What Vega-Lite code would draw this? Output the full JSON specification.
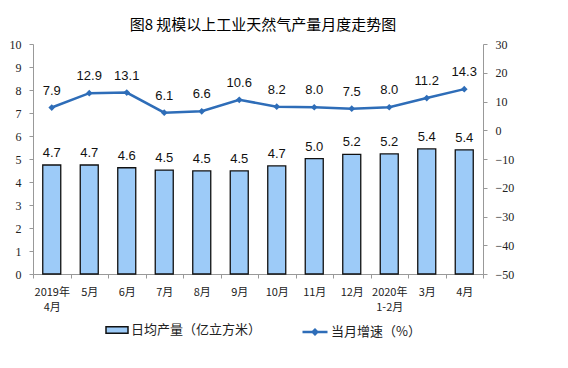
{
  "$schema": "https://vega.github.io/schema/vega-lite/v6.json",
  "width": 450,
  "height": 230,
  "autosize": {"type": "none"},
  "padding": {"left": 33, "top": 44, "right": 85, "bottom": 94},
  "background": "white",
  "title": {
    "text": "图8  规模以上工业天然气产量月度走势图",
    "font": "Noto Sans CJK SC",
    "fontSize": 15,
    "fontWeight": 400,
    "color": "#000",
    "anchor": "middle",
    "offset": 5,
    "dx": 5
  },
  "config": {
    "view": {"stroke": null},
    "axis": {"grid": false, "domainColor": "#999", "tickColor": "#999"}
  },
  "data": {
    "values": [
      {"m": "2019年|4月", "prod": 4.74, "growth": 7.9},
      {"m": "5月", "prod": 4.74, "growth": 12.9},
      {"m": "6月", "prod": 4.62, "growth": 13.1},
      {"m": "7月", "prod": 4.52, "growth": 6.1},
      {"m": "8月", "prod": 4.48, "growth": 6.6},
      {"m": "9月", "prod": 4.48, "growth": 10.6},
      {"m": "10月", "prod": 4.7, "growth": 8.2},
      {"m": "11月", "prod": 5.02, "growth": 8.0},
      {"m": "12月", "prod": 5.2, "growth": 7.5},
      {"m": "2020年|1-2月", "prod": 5.22, "growth": 8.0},
      {"m": "3月", "prod": 5.44, "growth": 11.2},
      {"m": "4月", "prod": 5.4, "growth": 14.3}
    ]
  },
  "encoding": {
    "x": {
      "field": "m",
      "type": "nominal",
      "sort": null,
      "title": null,
      "scale": {"paddingInner": 0, "paddingOuter": 0},
      "axis": {
        "labelAngle": 0,
        "labelExpr": "split(datum.label, '|')",
        "labelFont": "Noto Sans CJK SC",
        "labelFontSize": 11,
        "labelColor": "#222",
        "labelPadding": 8,
        "labelLineHeight": 15,
        "tickBand": "extent",
        "tickSize": 4,
        "domainColor": "#999"
      }
    }
  },
  "layer": [
    {
      "encoding": {
        "y": {
          "field": "prod",
          "type": "quantitative",
          "title": null,
          "scale": {"domain": [0, 10], "nice": false},
          "axis": {
            "values": [0, 1, 2, 3, 4, 5, 6, 7, 8, 9, 10],
            "labelOverlap": false,
            "labelFont": "Liberation Serif",
            "labelFontSize": 12,
            "labelColor": "#222",
            "labelPadding": 8,
            "tickSize": 4
          }
        }
      },
      "layer": [
        {
          "mark": {"type": "bar", "width": 18, "stroke": "#111", "strokeWidth": 1.3},
          "encoding": {
            "fill": {
              "datum": "日均产量（亿立方米）",
              "type": "nominal",
              "scale": {"range": ["#9DCBF8"]},
              "legend": {
                "orient": "none",
                "legendX": 72,
                "legendY": 274,
                "title": null,
                "symbolType": "M-1,-0.3H1V0.3H-1Z",
                "symbolSize": 484,
                "symbolStrokeColor": "#111",
                "symbolStrokeWidth": 1.5,
                "labelFont": "Noto Sans CJK SC",
                "labelFontSize": 13,
                "labelColor": "#222",
                "labelOffset": 2
              }
            }
          }
        },
        {
          "mark": {"type": "text", "dy": -12, "font": "Liberation Sans", "fontSize": 13, "color": "#111"},
          "encoding": {
            "text": {"field": "prod", "type": "quantitative", "format": ".1f"}
          }
        }
      ]
    },
    {
      "encoding": {
        "y": {
          "field": "growth",
          "type": "quantitative",
          "title": null,
          "scale": {"domain": [-50, 30], "nice": false},
          "axis": {
            "orient": "right",
            "values": [-50, -40, -30, -20, -10, 0, 10, 20, 30],
            "labelOverlap": false,
            "labelFont": "Liberation Serif",
            "labelFontSize": 12,
            "labelColor": "#222",
            "labelPadding": 8,
            "tickSize": 4
          }
        }
      },
      "layer": [
        {
          "mark": {"type": "line", "strokeWidth": 2.5},
          "encoding": {
            "stroke": {
              "datum": "当月增速（%）",
              "type": "nominal",
              "scale": {"range": ["#2E6DB8"]},
              "legend": {
                "orient": "none",
                "legendX": 268,
                "legendY": 274,
                "title": null,
                "symbolType": "M-1,0H1M-0.18,0L0,-0.18L0.18,0L0,0.18Z",
                "symbolSize": 625,
                "symbolStrokeWidth": 2.5,
                "symbolFillColor": "#2E6DB8",
                "labelFont": "Noto Sans CJK SC",
                "labelFontSize": 13,
                "labelColor": "#222",
                "labelOffset": 2
              }
            }
          }
        },
        {
          "mark": {"type": "point", "shape": "diamond", "filled": true, "size": 45, "color": "#2E6DB8", "opacity": 1},
          "encoding": {}
        },
        {
          "mark": {"type": "text", "dy": -17, "font": "Liberation Sans", "fontSize": 13, "color": "#111"},
          "encoding": {
            "text": {"field": "growth", "type": "quantitative", "format": ".1f"}
          }
        }
      ]
    }
  ],
  "resolve": {"scale": {"y": "independent", "fill": "independent", "stroke": "independent"}, "legend": {"fill": "independent", "stroke": "independent"}}
}
